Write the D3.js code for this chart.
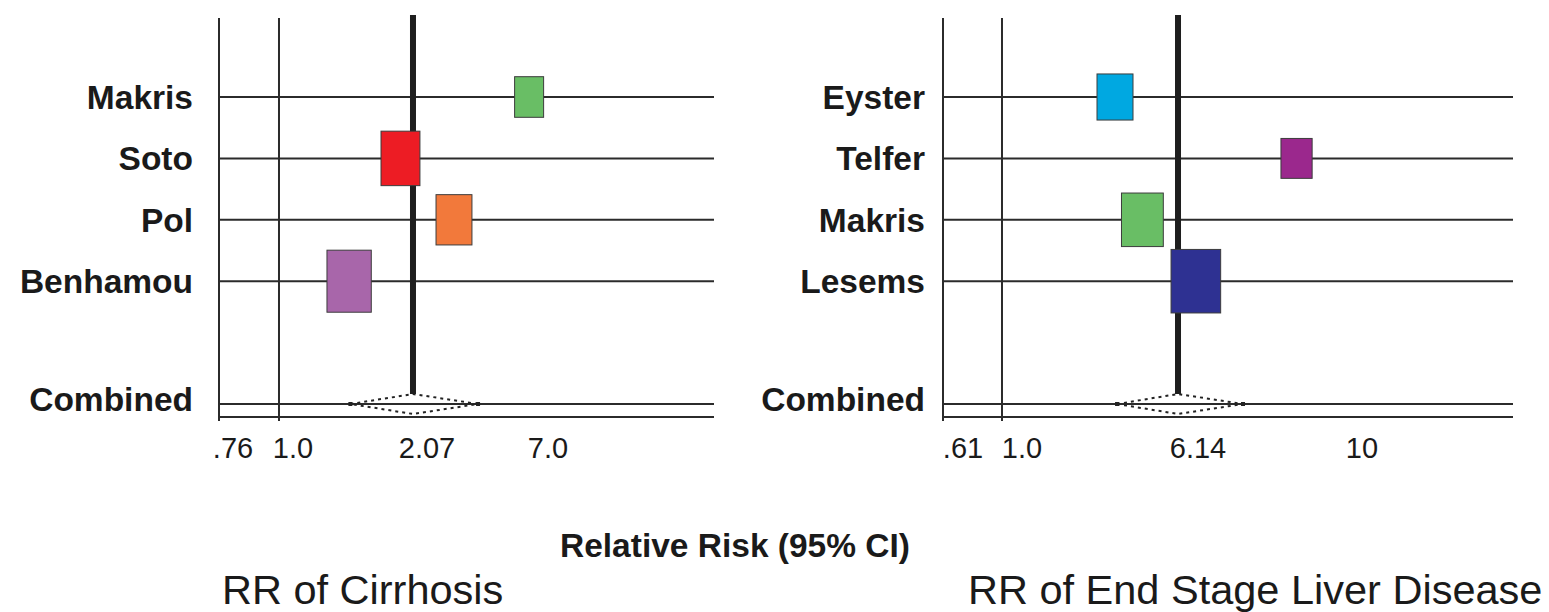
<!DOCTYPE html>
<html>
<head>
<meta charset="utf-8">
<script src="https://cdn.jsdelivr.net/npm/d3@7"></script>
<style>
  html, body { margin: 0; padding: 0; background: #fff; }
  svg { display: block; }
</style>
</head>
<body>
<svg id="chart" width="1549" height="612"></svg>
<script>
// ---- Cirrhosis meta-analysis ----
const cirrhosisStudies = ["Makris", "Soto", "Pol", "Benhamou"];
const cirrhosisRR = [6.8, 1.97, 3.74, 1.56];
const cirrhosisWeight = [15, 27, 23, 35];
const cirrhosisColors = ["#69BE65", "#ED1C24", "#F2793B", "#A866AA"];
const cirrhosisCombined = { rr: 2.07, lower: 1.57, upper: 4.72 };
const cirrhosisTicks = [0.76, 1.0, 2.07, 7.0];
const cirrhosisTickLabels = [".76", "1.0", "2.07", "7.0"];

// ---- End stage liver disease meta-analysis ----
const esldStudies = ["Eyster", "Telfer", "Makris", "Lesems"];
const esldRR = [4.30, 8.93, 5.10, 6.56];
const esldWeight = [20, 15, 27, 38];
const esldColors = ["#00A8E1", "#9B288D", "#69BE65", "#2E3192"];
const esldCombined = { rr: 6.14, lower: 4.36, upper: 7.67 };
const esldTicks = [0.61, 1.0, 6.14, 10];
const esldTickLabels = [".61", "1.0", "6.14", "10"];

const svg = d3.select("#chart");
svg.append("rect").attr("width", 1549).attr("height", 612).attr("fill", "#fff");

const LINE = "#2b2b2b";
const FONT = "Liberation Sans, Arial, sans-serif";
const rowKeys = ["r0", "r1", "r2", "r3", "gap", "combined"];
const y = d3.scalePoint().domain(rowKeys).range([97, 404]);

function forestPanel(cfg) {
  const g = svg.append("g");
  const width = cfg.x1 - cfg.x0;
  // Schematic (piecewise) axis: each labelled tick gets its own slot
  const x = d3.scaleLinear()
    .domain(cfg.ticks)
    .range(cfg.tickSlots.map(f => cfg.x0 + f * width));

  const rows = cfg.studies.map((s, i) => ({
    name: s, rr: cfg.rr[i], weight: cfg.weight[i], color: cfg.colors[i], key: rowKeys[i]
  }));
  const yTop = 18, yBottom = y("combined") + 13;

  // horizontal study rows, combined row and bottom rule
  const hl = rows.map(r => y(r.key)).concat([y("combined"), yBottom]);
  g.selectAll("line.h").data(hl).join("line")
    .attr("x1", cfg.x0).attr("x2", cfg.x1)
    .attr("y1", d => d).attr("y2", d => d)
    .attr("stroke", LINE).attr("stroke-width", 2);

  // left frame line and the null (RR = 1) line
  g.append("line")
    .attr("x1", cfg.x0).attr("x2", cfg.x0).attr("y1", yTop).attr("y2", yBottom + 4)
    .attr("stroke", LINE).attr("stroke-width", 2);
  g.append("line")
    .attr("x1", x(1)).attr("x2", x(1)).attr("y1", yTop).attr("y2", yBottom + 4)
    .attr("stroke", LINE).attr("stroke-width", 2);

  // pooled estimate line
  const dh = 10;
  g.append("line")
    .attr("x1", x(cfg.combined.rr)).attr("x2", x(cfg.combined.rr))
    .attr("y1", 15).attr("y2", y("combined") - dh)
    .attr("stroke", "#1e1e1e").attr("stroke-width", 6);

  // study boxes, sized by weight
  const side = d3.scaleSqrt().domain([0, 100]).range([0, cfg.boxK * 10]);
  g.selectAll("rect.box").data(rows).join("rect")
    .attr("x", d => x(d.rr) - side(d.weight) / 2)
    .attr("y", d => y(d.key) - side(d.weight) * cfg.aspect / 2)
    .attr("width", d => side(d.weight))
    .attr("height", d => side(d.weight) * cfg.aspect)
    .attr("fill", d => d.color)
    .attr("stroke", "#3c3c3c").attr("stroke-width", 1);

  // combined diamond (dotted)
  const cy = y("combined");
  const c = cfg.combined;
  g.append("path")
    .attr("d", d3.line()([[x(c.lower), cy], [x(c.rr), cy - dh], [x(c.upper), cy], [x(c.rr), cy + dh], [x(c.lower), cy]]))
    .attr("fill", "none").attr("stroke", "#222").attr("stroke-width", 2)
    .attr("stroke-dasharray", "3,4");
  g.selectAll("rect.tip").data([c.lower, c.upper]).join("rect")
    .attr("x", d => x(d) - 2).attr("y", cy - 2).attr("width", 4).attr("height", 4)
    .attr("fill", "#222");

  // study labels
  const labelRows = rows.map(r => ({ name: r.name, key: r.key })).concat([{ name: "Combined", key: "combined" }]);
  g.selectAll("text.row").data(labelRows).join("text")
    .attr("x", cfg.x0 - cfg.labelGap)
    .attr("y", d => y(d.key) + (d.key === "combined" ? -5 : 0))
    .attr("dy", "0.36em")
    .attr("text-anchor", "end")
    .attr("font-family", FONT)
    .attr("font-weight", "bold").attr("font-size", 33.5)
    .attr("fill", "#1a1a1a")
    .text(d => d.name);

  // tick labels
  g.selectAll("text.tick").data(cfg.ticks).join("text")
    .attr("x", d => x(d) + cfg.tickDx)
    .attr("y", 458)
    .attr("text-anchor", "middle")
    .attr("font-family", FONT)
    .attr("font-size", 29).attr("fill", "#1a1a1a")
    .text((d, i) => cfg.tickLabels[i]);

  // panel title
  g.append("text")
    .attr("x", cfg.titleX).attr("y", 604)
    .attr("font-family", FONT)
    .attr("font-size", 41.5).attr("fill", "#1a1a1a")
    .text(cfg.title);
}

forestPanel({
  x0: 219, x1: 714,
  ticks: cirrhosisTicks, tickLabels: cirrhosisTickLabels,
  tickSlots: [0, 0.1212, 0.3919, 0.6364],
  studies: cirrhosisStudies, rr: cirrhosisRR, weight: cirrhosisWeight, colors: cirrhosisColors,
  combined: cirrhosisCombined,
  boxK: 7.49, aspect: 1.4, labelGap: 26, tickDx: 14,
  title: "RR of Cirrhosis", titleX: 222
});

forestPanel({
  x0: 943, x1: 1513,
  ticks: esldTicks, tickLabels: esldTickLabels,
  tickSlots: [0, 0.1035, 0.4123, 0.7],
  studies: esldStudies, rr: esldRR, weight: esldWeight, colors: esldColors,
  combined: esldCombined,
  boxK: 8.05, aspect: 1.28, labelGap: 18, tickDx: 20,
  title: "RR of End Stage Liver Disease", titleX: 968
});

// shared axis title
svg.append("text")
  .attr("x", 735).attr("y", 557)
  .attr("text-anchor", "middle")
  .attr("font-family", FONT)
  .attr("font-weight", "bold").attr("font-size", 33.5)
  .attr("fill", "#1a1a1a")
  .text("Relative Risk (95% CI)");
</script>
</body>
</html>
